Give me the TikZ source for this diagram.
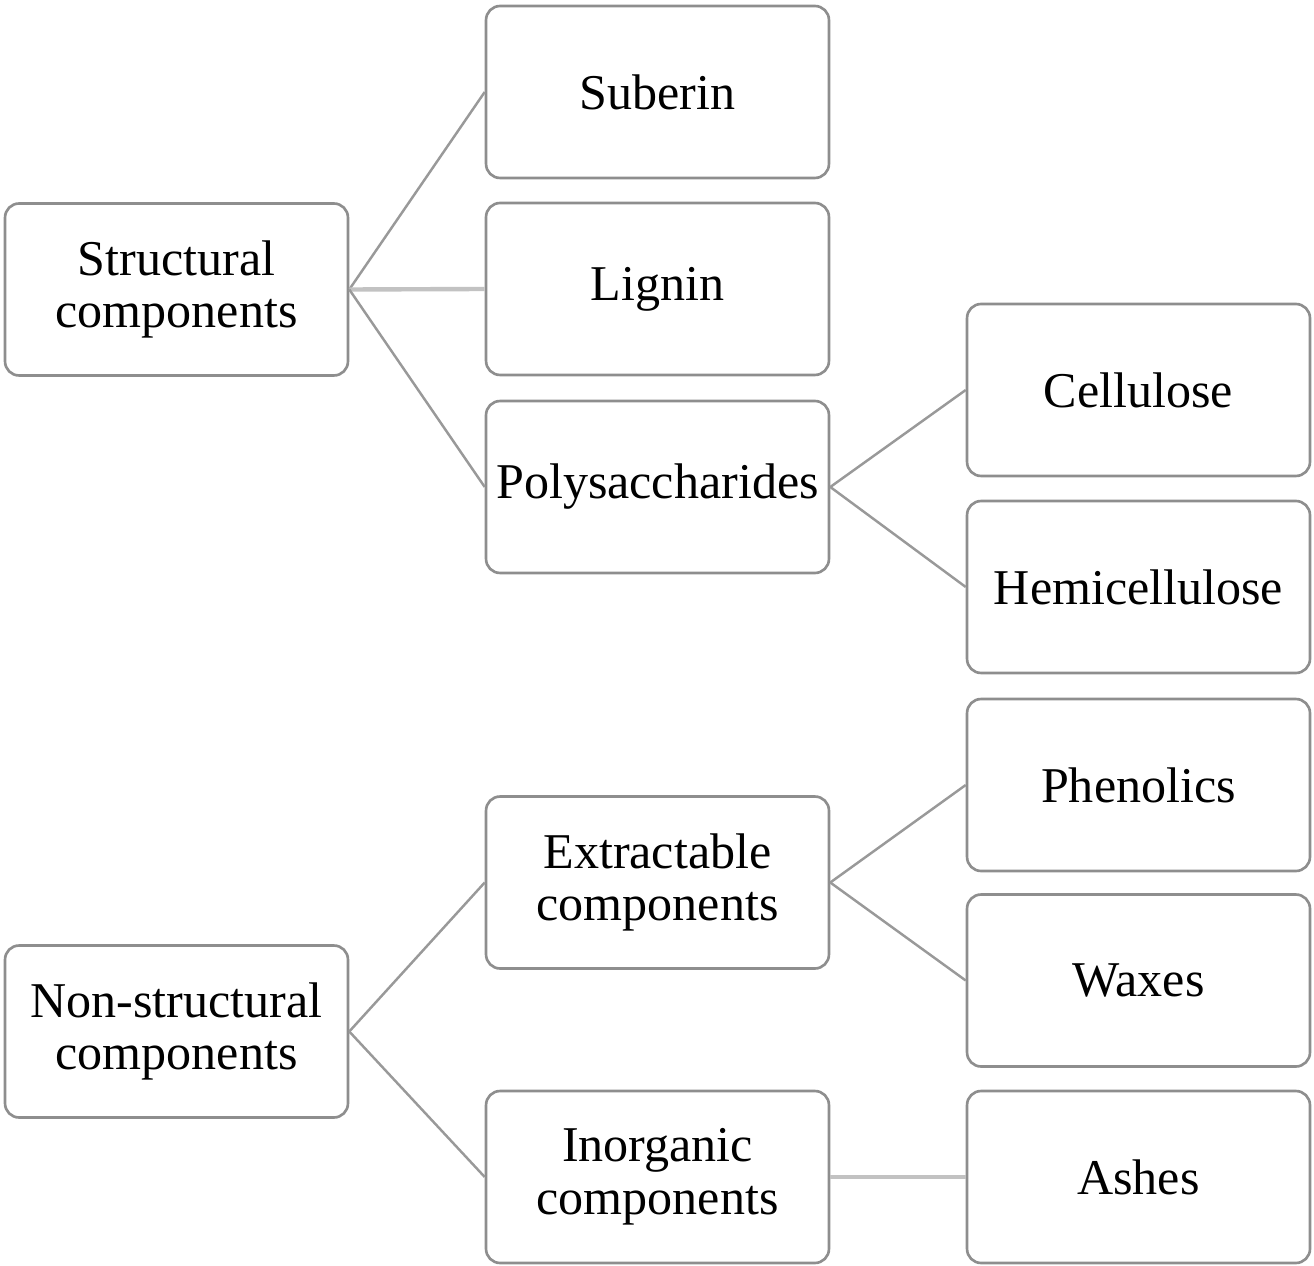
\documentclass[tikz,border=0pt]{standalone}
\usepackage{fontspec}
\setmainfont{Liberation Serif}
\definecolor{boxline}{HTML}{8E8E8E}
\definecolor{diagline}{HTML}{999999}
\definecolor{hline}{HTML}{C2C2C2}
\begin{document}
\begin{tikzpicture}[x=0.02cm,y=-0.02cm,
  box/.style={draw=boxline, line width=1.5pt, rounded corners=8pt, fill=white,
    minimum width=6.86cm, minimum height=3.44cm, inner sep=0pt, align=center,
    font=\fontsize{28.5}{30}\selectfont},
  conn/.style={draw=diagline, line width=1.4pt},
  hconn/.style={draw=hline, line width=2.5pt}]
\useasboundingbox (0,0) rectangle (1314,1266);
\node[box] (struct) at (176.5,289.5) {Structural\\components};
\node[box] (suberin) at (657.5,92) {Suberin};
\node[box] (lignin) at (657.5,289) {Lignin};
\node[box] (poly) at (657.5,487) {Polysaccharides};
\node[box] (cell) at (1138.5,390) {Cellulose};
\node[box] (hemi) at (1138.5,587) {Hemicellulose};
\node[box] (nonstruct) at (176.5,1031.5) {Non-structural\\components};
\node[box] (extract) at (657.5,882.5) {Extractable\\components};
\node[box] (inorg) at (657.5,1177) {Inorganic\\components};
\node[box] (phen) at (1138.5,785) {Phenolics};
\node[box] (wax) at (1138.5,980.5) {Waxes};
\node[box] (ash) at (1138.5,1177) {Ashes};
\draw[conn] (struct.east) -- (suberin.west);
\draw[hconn] (struct.east) -- (lignin.west);
\draw[conn] (struct.east) -- (poly.west);
\draw[conn] (poly.east) -- (cell.west);
\draw[conn] (poly.east) -- (hemi.west);
\draw[conn] (nonstruct.east) -- (extract.west);
\draw[conn] (nonstruct.east) -- (inorg.west);
\draw[conn] (extract.east) -- (phen.west);
\draw[conn] (extract.east) -- (wax.west);
\draw[hconn] (inorg.east) -- (ash.west);
\end{tikzpicture}
\end{document}
